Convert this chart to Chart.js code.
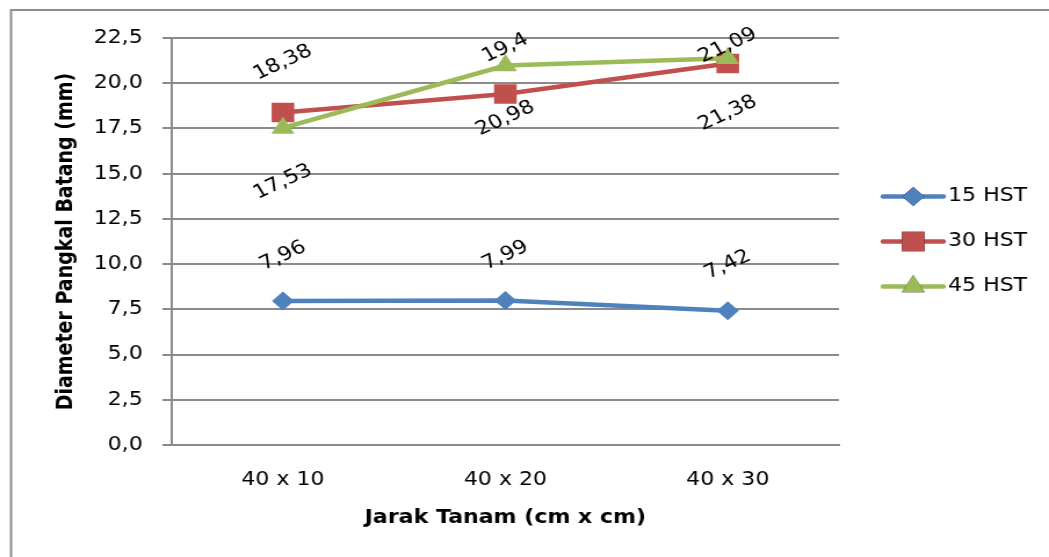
<!DOCTYPE html>
<html>
<head>
<meta charset="utf-8">
<script src="https://cdn.jsdelivr.net/npm/chart.js@4.4.1/dist/chart.umd.min.js"></script>
<style>
  body { margin: 0; background: #fff; overflow: hidden; }
  #wrap { width: 1049px; height: 557px; }
  /* gambar asli melebar horizontal */
  #grafica { transform: scaleX(1.1604); transform-origin: 0 0; }
</style>
</head>
<body>
<div id="wrap"><canvas id="grafica" width="904" height="557"></canvas></div>
<script>
// Datos
const kategori = ['40 x 10', '40 x 20', '40 x 30'];
const hst15 = [7.96, 7.99, 7.42];
const hst30 = [18.38, 19.4, 21.09];
const hst45 = [17.53, 20.98, 21.38];
const namaSeri = ['15 HST', '30 HST', '45 HST'];

const biru = '#4f81bd';
const merah = '#c0504d';
const hijau = '#9bbb59';
const abu = '#8a8a8a';

Chart.defaults.font.family = '"DejaVu Sans", sans-serif';
Chart.defaults.color = '#000';

// posisi label (pixel, relatif ke titik)
const geserLabel = [
  [-45, -45, -46],
  [-50, -46, -18],
  [54, 53, 55]
];

const labelPlugin = {
  id: 'labelData',
  beforeDraw(chart) {
    const ctx = chart.ctx;
    ctx.save();
    ctx.strokeStyle = '#8c8c8c';
    ctx.lineWidth = 2;
    ctx.beginPath();
    ctx.moveTo(9.5, 557);
    ctx.lineTo(9.5, 10);
    ctx.lineTo(chart.width, 10);
    ctx.stroke();
    ctx.restore();
  },
  afterDatasetsDraw(chart) {
    const ctx = chart.ctx;
    ctx.save();
    ctx.font = '19px "DejaVu Sans"';
    ctx.fillStyle = '#000';
    ctx.textAlign = 'center';
    ctx.textBaseline = 'middle';
    chart.data.datasets.forEach((ds, i) => {
      const meta = chart.getDatasetMeta(i);
      meta.data.forEach((pt, j) => {
        ctx.save();
        ctx.translate(pt.x, pt.y + geserLabel[i][j]);
        ctx.rotate(-28 * Math.PI / 180);
        ctx.fillText(String(ds.data[j]).replace('.', ','), 0, 0);
        ctx.restore();
      });
    });

    // legenda
    const area = chart.chartArea;
    const x0 = area.right + 38;
    const yMid = (area.top + area.bottom) / 2;
    chart.data.datasets.forEach((ds, i) => {
      const y = yMid + (i - 1) * 45;
      ctx.strokeStyle = ds.borderColor;
      ctx.lineWidth = 4.5;
      ctx.lineCap = 'round';
      ctx.beginPath();
      ctx.moveTo(x0, y);
      ctx.lineTo(x0 + 52, y);
      ctx.stroke();
      Chart.helpers.drawPoint(ctx, {
        pointStyle: ds.pointStyle,
        radius: ds.pointRadius,
        borderWidth: 0
      }, x0 + 26, y);
      ctx.fillStyle = ds.backgroundColor;
      ctx.fill();
      ctx.fillStyle = '#000';
      ctx.textAlign = 'left';
      ctx.fillText(ds.label, x0 + 56, y);
    });
    ctx.restore();
  }
};

const ctx = document.getElementById('grafica').getContext('2d');
const myChart = new Chart(ctx, {
  type: 'line',
  data: {
    labels: kategori,
    datasets: [
      {
        label: namaSeri[0],
        data: hst15,
        borderColor: biru,
        backgroundColor: biru,
        borderWidth: 4.5,
        pointStyle: 'rectRot',
        pointRadius: 9.5,
        pointBorderWidth: 0,
        order: 2
      },
      {
        label: namaSeri[1],
        data: hst30,
        borderColor: merah,
        backgroundColor: merah,
        borderWidth: 4.5,
        pointStyle: 'rect',
        pointRadius: 13.8,
        pointBorderWidth: 0,
        order: 1
      },
      {
        label: namaSeri[2],
        data: hst45,
        borderColor: hijau,
        backgroundColor: hijau,
        borderWidth: 4.5,
        pointStyle: 'triangle',
        pointRadius: 11.5,
        pointBorderWidth: 0,
        order: 0
      }
    ]
  },
  options: {
    responsive: false,
    animation: false,
    layout: { padding: { left: 0, top: 38, right: 181, bottom: 0 } },
    plugins: {
      legend: { display: false },
      tooltip: { enabled: false }
    },
    scales: {
      x: {
        offset: true,
        grid: { display: false, drawTicks: false },
        border: { display: true, color: abu, width: 2 },
        ticks: { font: { size: 19 }, padding: 24 },
        title: {
          display: true,
          text: 'Jarak Tanam (cm x cm)',
          font: { size: 19, weight: 'bold' },
          padding: { top: 0, bottom: 28 }
        },
        afterFit(scale) { scale.height = 112; }
      },
      y: {
        min: 0,
        max: 22.5,
        ticks: {
          stepSize: 2.5,
          font: { size: 19 },
          padding: 17,
          callback: v => v.toFixed(1).replace('.', ',')
        },
        grid: { color: abu, lineWidth: 2, tickLength: 8 },
        border: { display: true, color: abu, width: 2 },
        title: {
          display: true,
          text: 'Diameter Pangkal Batang (mm)',
          font: { size: 19, weight: 'bold' },
          padding: { top: 45.5, bottom: 0 }
        },
        afterFit(scale) { scale.width = 148; }
      }
    }
  },
  plugins: [labelPlugin]
});
</script>
</body>
</html>
